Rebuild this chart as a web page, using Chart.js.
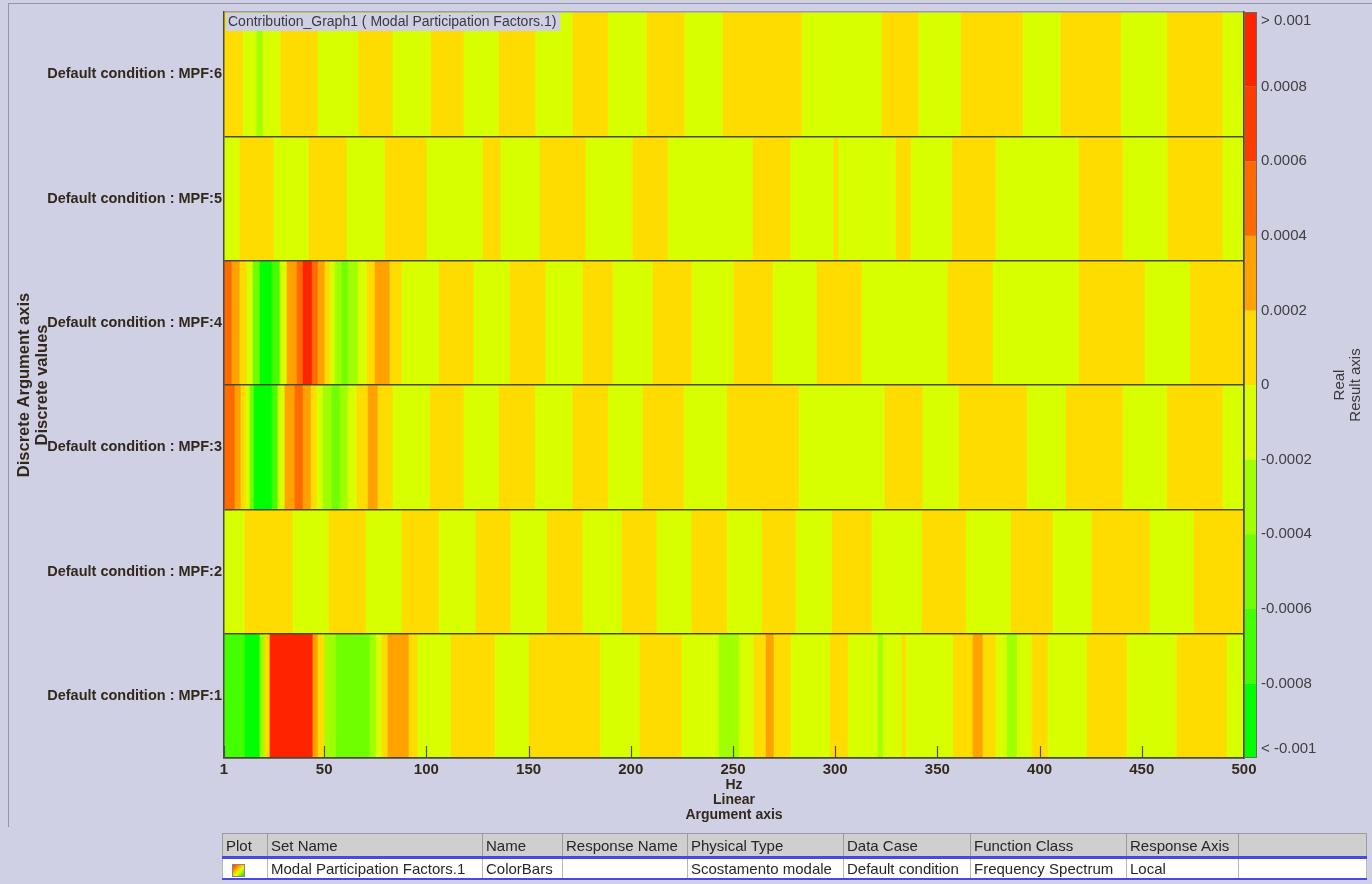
<!DOCTYPE html>
<html>
<head>
<meta charset="utf-8">
<title>Contribution_Graph1</title>
<script src="https://cdn.jsdelivr.net/npm/chart.js@4.4.1/dist/chart.umd.min.js"></script>
<style>
  html, body { margin: 0; padding: 0; background: #d0d0e4; }
  #wrap { position: relative; width: 1372px; height: 884px; overflow: hidden; background: #d0d0e4; }
  #frame { position: absolute; left: 8px; top: 3px; width: 1364px; height: 824px;
           border-left: 1px solid #9494ab; border-top: 1px solid #9494ab; box-sizing: border-box; }
  #chart { position: absolute; left: 0; top: 0; }
  #sets { position: absolute; left: 222px; top: 833px; width: 1144px; border-collapse: collapse;
          table-layout: fixed; font: 15px 'Liberation Sans', Arial, sans-serif; color: #262626; }
  #sets th { background: #cfcfcf; border: 1px solid #9c9c9c; height: 22px; padding: 0 3px;
             text-align: left; font-weight: normal; white-space: nowrap; overflow: hidden; }
  #sets tr.row td { background: #ffffff; border-left: 1px solid #b8b8b8; border-right: 1px solid #b8b8b8;
                    height: 19px; padding: 0 3px; white-space: nowrap; overflow: hidden; }
  #sets tr.row { border-top: 3px solid #4848e8; border-bottom: 2px solid #4848e8; }
  .ico { display: inline-block; width: 11px; height: 11px; vertical-align: middle; margin-left: 6px;
         background: linear-gradient(135deg, #ff3000 0%, #ffd000 45%, #e0ff00 60%, #30d000 100%);
         border: 1px solid #888; }
</style>
</head>
<body>
<div id="wrap">
  <div id="frame"></div>
  <canvas id="chart" width="1372" height="884"></canvas>
  <table id="sets">
    <colgroup>
      <col style="width:45px"><col style="width:215px"><col style="width:80px"><col style="width:125px">
      <col style="width:156px"><col style="width:127px"><col style="width:156px"><col style="width:112px">
      <col style="width:128px">
    </colgroup>
    <tr><th>Plot</th><th>Set Name</th><th>Name</th><th>Response Name</th><th>Physical Type</th>
        <th>Data Case</th><th>Function Class</th><th>Response Axis</th><th></th></tr>
    <tr class="row"><td><span class="ico"></span></td><td>Modal Participation Factors.1</td><td>ColorBars</td><td></td>
        <td>Scostamento modale</td><td>Default condition</td><td>Frequency Spectrum</td><td>Local</td><td></td></tr>
  </table>
</div>
<script>
// Rows of the discrete argument axis, top to bottom
const rowLabels = [
  'Default condition : MPF:6',
  'Default condition : MPF:5',
  'Default condition : MPF:4',
  'Default condition : MPF:3',
  'Default condition : MPF:2',
  'Default condition : MPF:1'
];

// Frequency axis (Hz)
const hzMin = 1;
const hzMax = 500;
const hzTicks = [1, 50, 100, 150, 200, 250, 300, 350, 400, 450, 500];

// Colour scale steps of the result axis and the colour of each step
const scaleSteps = [-0.001, -0.0008, -0.0006, -0.0004, -0.0002, 0, 0.0002, 0.0004, 0.0006, 0.0008, 0.001];
const scaleColors = ['#00ff00', '#44ff00', '#70ff00', '#a0ff00', '#d8ff00',
                     '#ffdc00', '#ffa200', '#ff6a00', '#ff3c00', '#ff2400'];

// Each row: start frequency (Hz) of every band and the band's participation factor
const mpf6Start = [1, 10.3, 17.1, 20.1, 28.9, 47.0, 67.0, 83.7, 102.3, 118.4, 135.5, 153.6, 171.7,
                   188.9, 207.9, 226.5, 245.1, 283.8, 322.9, 341.0, 361.6, 391.9, 410.5, 439.9, 462.4, 489.7];
const mpf6Value = [0.00011, -0.00008, -0.00032, -0.00009, 0.00012, -0.00010, 0.00013, -0.00011, 0.00010,
                   -0.00009, 0.00012, -0.00010, 0.00011, -0.00012, 0.00010, -0.00009, 0.00013, -0.00011,
                   0.00010, -0.00008, 0.00012, -0.00010, 0.00011, -0.00009, 0.00012, -0.00007];

const mpf5Start = [1, 8.8, 25.5, 42.6, 61.2, 79.8, 100.3, 127.7, 136.5, 155.6, 178.1, 201.1, 218.2,
                   259.8, 278.3, 299.4, 301.7, 329.8, 337.1, 357.2, 378.7, 419.3, 440.8, 462.8, 489.7];
const mpf5Value = [-0.00009, 0.00012, -0.00010, 0.00011, -0.00012, 0.00010, -0.00011, 0.00009, -0.00010,
                   0.00013, -0.00011, 0.00010, -0.00012, 0.00011, -0.00009, 0.00008, -0.00010, 0.00012,
                   -0.00009, 0.00011, -0.00013, 0.00010, -0.00011, 0.00012, -0.00008];

const mpf4Start = [1, 4.9, 8.8, 12.3, 15.2, 18.6, 24.5, 28.4, 31.8, 36.7, 39.7, 44.1, 47.0, 50.4, 52.9,
                   55.3, 58.7, 61.7, 66.6, 71.0, 74.9, 82.2, 88.1, 106.2, 123.3, 140.9, 158.5, 176.6,
                   191.3, 210.9, 230.0, 250.5, 269.6, 291.1, 313.1, 355.2, 377.2, 419.3, 451.6, 473.6];
const mpf4Value = [0.00052, 0.00031, 0.00012, -0.00008, -0.00047, -0.00092, -0.00068, -0.00011, 0.00029,
                   0.00055, 0.00088, 0.00051, 0.00027, 0.00009, -0.00012, -0.00033, -0.00051, -0.00036,
                   -0.00013, 0.00011, 0.00032, 0.00012, -0.00010, 0.00011, -0.00009, 0.00012, -0.00010,
                   0.00013, -0.00011, 0.00010, -0.00012, 0.00011, -0.00009, 0.00012, -0.00010, 0.00011,
                   -0.00012, 0.00013, -0.00010, 0.00012];

const mpf3Start = [1, 6.4, 9.3, 11.8, 13.7, 15.7, 24.5, 27.4, 30.8, 35.7, 39.7, 43.6, 46.5, 49.4, 53.8,
                   57.8, 61.7, 66.1, 71.5, 76.3, 83.7, 101.8, 118.4, 135.5, 153.2, 171.7, 188.9, 206.0,
                   226.0, 247.1, 282.3, 324.4, 342.9, 360.6, 393.9, 413.0, 440.8, 462.4, 489.7];
const mpf3Value = [0.00049, 0.00028, 0.00010, -0.00012, -0.00046, -0.00094, -0.00071, -0.00008, 0.00031,
                   0.00047, 0.00026, 0.00009, -0.00011, -0.00029, -0.00044, -0.00031, -0.00012, 0.00011,
                   0.00034, 0.00012, -0.00010, 0.00011, -0.00009, 0.00012, -0.00011, 0.00010, -0.00012,
                   0.00011, -0.00010, 0.00013, -0.00009, 0.00012, -0.00011, 0.00010, -0.00012, 0.00011,
                   -0.00010, 0.00012, -0.00008];

const mpf2Start = [1, 11.3, 34.8, 52.4, 70.5, 88.1, 106.2, 124.3, 141.4, 159.0, 176.6, 195.7, 212.8,
                   229.9, 247.1, 264.2, 280.8, 298.5, 318.0, 342.5, 364.0, 386.0, 406.6, 425.7, 454.0, 475.6];
const mpf2Value = [-0.00010, 0.00012, -0.00011, 0.00010, -0.00009, 0.00013, -0.00012, 0.00011, -0.00010,
                   0.00012, -0.00011, 0.00010, -0.00013, 0.00011, -0.00009, 0.00012, -0.00010, 0.00011,
                   -0.00012, 0.00010, -0.00011, 0.00013, -0.00010, 0.00012, -0.00009, 0.00011];

const mpf1Start = [1, 11.3, 18.6, 21.1, 23.5, 44.5, 47.0, 50.4, 55.8, 72.4, 75.4, 78.3, 81.2, 91.5, 95.9,
                   112.1, 133.6, 150.2, 185.0, 204.5, 225.1, 243.2, 253.0, 260.3, 266.2, 270.1, 278.4,
                   297.5, 306.3, 321.0, 323.4, 332.7, 334.7, 357.7, 367.4, 372.3, 378.7, 384.1, 389.0,
                   396.3, 404.1, 423.2, 442.8, 467.2, 491.7];
const mpf1Value = [-0.00069, -0.00093, -0.00028, 0.00009, 0.00091, 0.00027, 0.00011, -0.00031, -0.00052,
                   -0.00029, -0.00012, 0.00010, 0.00033, 0.00012, -0.00009, 0.00011, -0.00010, 0.00013,
                   -0.00011, 0.00012, -0.00010, -0.00027, -0.00011, 0.00012, 0.00030, 0.00010, -0.00012,
                   0.00011, -0.00009, -0.00026, -0.00010, 0.00008, -0.00011, 0.00012, 0.00033, 0.00011,
                   -0.00010, -0.00028, -0.00012, 0.00010, -0.00011, 0.00012, -0.00010, 0.00011, -0.00009];

const rowBands = [
  [mpf6Start, mpf6Value], [mpf5Start, mpf5Value], [mpf4Start, mpf4Value],
  [mpf3Start, mpf3Value], [mpf2Start, mpf2Value], [mpf1Start, mpf1Value]
];

// Colour of a value on the stepped result scale
function stepColor(v) {
  let i = 0;
  while (i < scaleColors.length - 1 && v >= scaleSteps[i + 1]) i++;
  return scaleColors[i];
}

// One floating bar per band: [start, end] along the frequency axis
const cells = [];
rowBands.forEach(([starts, values], r) => {
  starts.forEach((s, i) => {
    const e = i + 1 < starts.length ? starts[i + 1] : hzMax;
    cells.push({ y: rowLabels[r], x: [s, e], v: values[i] });
  });
});

// Result-axis labels; the two end labels sit just inside the bar ends
function stepLabel(v) {
  if (v >= 0.001) return ['', '> 0.001'];
  if (v <= -0.001) return ['< -0.001', ''];
  return String(Number(v.toFixed(4)));
}

const FONT = "'Liberation Sans', Arial, Helvetica, sans-serif";
const INK = '#33281c';
const EDGE = '#4a4a3c';

const decorations = {
  id: 'decorations',
  afterDraw(chart) {
    const { ctx, chartArea: ca, scales } = chart;
    const xs = scales.x, cb = scales.y2;
    ctx.save();

    // inward tick marks on the frequency axis
    ctx.strokeStyle = '#505050';
    ctx.lineWidth = 1.2;
    hzTicks.forEach(v => {
      const px = Math.round(xs.getPixelForValue(v)) + 0.5;
      ctx.beginPath();
      ctx.moveTo(px, ca.bottom);
      ctx.lineTo(px, ca.bottom - 12);
      ctx.stroke();
    });

    // stepped colour bar beside the plot
    for (let i = 0; i < scaleColors.length; i++) {
      const yTop = cb.getPixelForValue(scaleSteps[i + 1]);
      const yBot = cb.getPixelForValue(scaleSteps[i]);
      ctx.fillStyle = scaleColors[i];
      ctx.fillRect(cb.left + 1, yTop, 11, yBot - yTop);
    }
    ctx.strokeStyle = '#6a6a6a';
    ctx.lineWidth = 1;
    ctx.strokeRect(cb.left + 0.5, cb.getPixelForValue(0.001) + 0.5, 12,
                   cb.getPixelForValue(-0.001) - cb.getPixelForValue(0.001) - 1);

    // result axis title
    ctx.fillStyle = '#3a3a3a';
    ctx.font = '15px ' + FONT;
    ctx.textAlign = 'center';
    ctx.textBaseline = 'middle';
    ctx.translate(1340, (ca.top + ca.bottom) / 2);
    ctx.rotate(-Math.PI / 2);
    ctx.fillText('Real', 0, 0);
    ctx.fillText('Result axis', 0, 16);
    ctx.restore();

    // graph caption in the top-left corner of the plot
    ctx.save();
    const caption = 'Contribution_Graph1 ( Modal Participation Factors.1)';
    ctx.font = '14px ' + FONT;
    const w = ctx.measureText(caption).width;
    ctx.fillStyle = '#cfcfe6';
    ctx.fillRect(ca.left + 2, ca.top + 1, w + 6, 18);
    ctx.fillStyle = '#3a3a3a';
    ctx.textBaseline = 'middle';
    ctx.fillText(caption, ca.left + 4, ca.top + 10);
    ctx.restore();
  }
};

new Chart(document.getElementById('chart'), {
  type: 'bar',
  data: {
    labels: rowLabels,
    datasets: [{
      data: cells,
      backgroundColor: ctx => stepColor(ctx.raw.v),
      borderWidth: 0,
      grouped: false,
      categoryPercentage: 1,
      barPercentage: 1
    }]
  },
  options: {
    indexAxis: 'y',
    responsive: false,
    devicePixelRatio: 1,
    animation: false,
    layout: { padding: { top: 12, left: 0, right: 0, bottom: 0 } },
    plugins: { legend: { display: false }, tooltip: { enabled: false } },
    scales: {
      x: {
        type: 'linear',
        position: 'bottom',
        min: hzMin,
        max: hzMax,
        afterBuildTicks: s => { s.ticks = hzTicks.map(v => ({ value: v })); },
        afterFit: s => { s.height = 126; },
        grid: { display: false, drawTicks: false },
        border: { display: true, color: EDGE, width: 1.5, z: 1 },
        ticks: { font: { family: FONT, size: 15, weight: 'bold' }, color: INK, padding: 3,
                 maxRotation: 0, autoSkip: false },
        title: { display: true, text: ['Hz', 'Linear', 'Argument axis'], color: INK,
                 font: { family: FONT, size: 14, weight: 'bold', lineHeight: '15px' },
                 padding: { top: 0, bottom: 61.5 } }
      },
      y: {
        type: 'category',
        position: 'left',
        offset: true,
        afterFit: s => { s.width = 224; },
        grid: { display: true, offset: true, drawTicks: false, z: 1, lineWidth: 1.6,
                color: c => (c.index === 0 ? '#9a9ab2' : EDGE) },
        border: { display: true, color: EDGE, width: 1.5, z: 1 },
        ticks: { font: { family: FONT, size: 14.5, weight: 'bold' }, color: INK, padding: 2 },
        title: { display: true, text: ['Discrete Argument axis', 'Discrete values'], color: INK,
                 font: { family: FONT, size: 16.5, weight: 'bold', lineHeight: '18px' },
                 padding: { top: 15, bottom: 0 } }
      },
      y2: {
        type: 'linear',
        position: 'right',
        offset: false,
        min: -0.001,
        max: 0.001,
        afterBuildTicks: s => { s.ticks = scaleSteps.map(v => ({ value: v })); },
        afterFit: s => { s.width = 128; s.paddingTop = 0; s.paddingBottom = 0; },
        grid: { display: false, drawTicks: false },
        border: { display: true, color: EDGE, width: 1.5, z: 1 },
        ticks: {
          font: { family: FONT, size: 15, lineHeight: '18px' }, color: '#404040', padding: 17,
          callback: v => stepLabel(v)
        }
      }
    }
  },
  plugins: [decorations]
});
</script>
</body>
</html>
